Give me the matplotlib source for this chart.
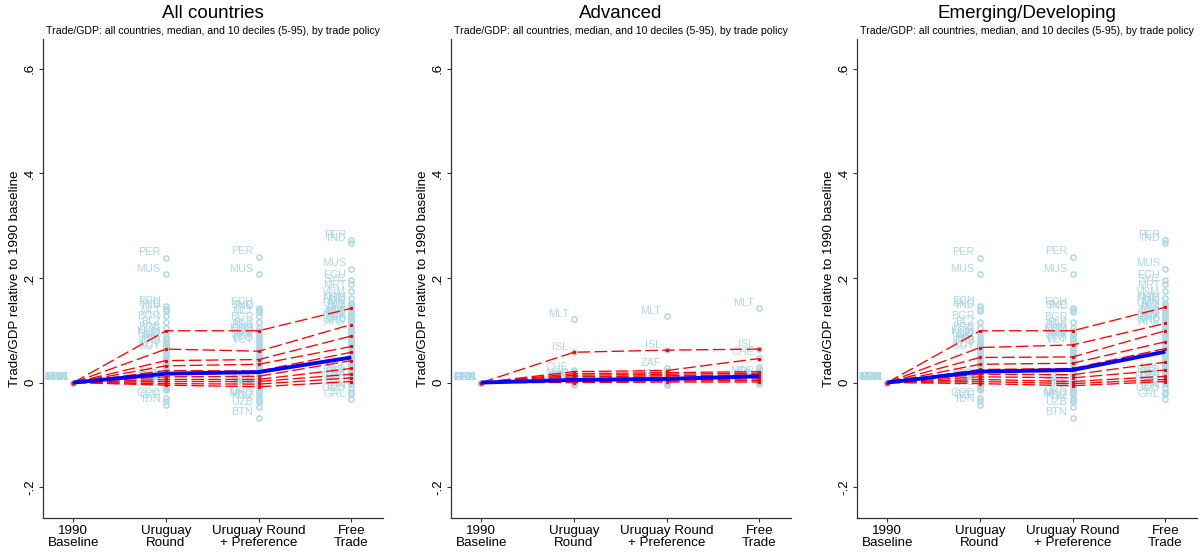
import matplotlib
matplotlib.use("Agg")
import matplotlib.pyplot as plt

plt.rcParams['font.family'] = ['Liberation Sans', 'DejaVu Sans']

# ---------------------------------------------------------------- data
categories = ["1990\nBaseline", "Uruguay\nRound", "Uruguay Round\n+ Preference", "Free\nTrade"]
panel_titles = ["All countries", "Advanced", "Emerging/Developing"]
subtitle = "Trade/GDP: all countries, median, and 10 deciles (5-95), by trade policy"
y_ticks = [-0.2, 0.0, 0.2, 0.4, 0.6]
y_tick_labels = ["-.2", "0", ".2", ".4", ".6"]
y_title = "Trade/GDP relative to 1990 baseline"

# medians and deciles (5..95) per scenario (Uruguay, Uruguay+Pref, Free trade)
all_median = [0.0, 0.017, 0.020, 0.048]
all_dec_ur = [0.099, 0.064, 0.042, 0.032, 0.023, 0.011, 0.006, 0.002, -0.002, -0.005]
all_dec_urp = [0.099, 0.060, 0.044, 0.035, 0.022, 0.012, 0.006, 0.002, -0.003, -0.008]
all_dec_ft = [0.142, 0.111, 0.089, 0.069, 0.058, 0.042, 0.027, 0.016, 0.009, 0.002]

adv_median = [0.0, 0.005, 0.007, 0.012]
adv_dec_ur = [0.058, 0.021, 0.017, 0.014, 0.011, 0.008, 0.006, 0.004, 0.002, 0.000]
adv_dec_urp = [0.062, 0.023, 0.019, 0.016, 0.013, 0.010, 0.007, 0.005, 0.003, 0.001]
adv_dec_ft = [0.064, 0.046, 0.021, 0.018, 0.015, 0.013, 0.010, 0.007, 0.004, 0.001]

emg_median = [0.0, 0.021, 0.024, 0.059]
emg_dec_ur = [0.099, 0.067, 0.048, 0.035, 0.025, 0.016, 0.011, 0.006, 0.002, -0.002]
emg_dec_urp = [0.099, 0.072, 0.049, 0.037, 0.027, 0.015, 0.009, 0.002, -0.002, -0.006]
emg_dec_ft = [0.144, 0.113, 0.099, 0.078, 0.065, 0.039, 0.024, 0.012, 0.006, 0.002]

# country values: labelled countries and the remaining ones
all_base_codes = ["CHN", "BRA", "MEX", "TUR", "ARG", "ZAF", "GBR", "EGY"]
all_ur_codes = ["PER", "MUS", "ECU", "SYC", "IND", "MLT", "BGR", "BLZ", "BRB", "KHM", "HND",
                "NIC", "JAM", "LCA", "TTO", "VCT", "GUY", "NPL", "BGD", "PAK", "LKA", "MMR",
                "LAO", "GEO", "CZE", "IDN"]
all_ur_vals = [0.239, 0.207, 0.146, 0.141, 0.137, 0.127, 0.116, 0.105, 0.095, 0.088, 0.084,
               0.080, 0.076, 0.072, 0.068, 0.064, 0.060, 0.010, 0.006, 0.002, -0.002, -0.006,
               -0.010, -0.030, -0.035, -0.043]
all_ur_rest = [0.056, 0.052, 0.049, 0.045, 0.042, 0.038, 0.035, 0.032, 0.029, 0.026, 0.023,
               0.021, 0.018, 0.016, 0.014, 0.012, 0.008, 0.004, 0.000, -0.004, -0.008,
               -0.012, -0.014]

all_urp_codes = ["PER", "MUS", "ECU", "SYC", "IND", "MLT", "BGR", "BLZ", "BRB", "KHM", "HND",
                 "NIC", "JAM", "LCA", "TTO", "VCT", "NPL", "BGD", "PAK", "LKA", "MKD", "MNG",
                 "KGZ", "UZB", "BTN"]
all_urp_vals = [0.241, 0.207, 0.143, 0.138, 0.135, 0.127, 0.115, 0.104, 0.099, 0.094, 0.090,
                0.086, 0.082, 0.078, 0.074, 0.070, -0.002, -0.006, -0.010, -0.014, -0.029,
                -0.033, -0.037, -0.047, -0.067]
all_urp_rest = [0.066, 0.062, 0.058, 0.055, 0.051, 0.048, 0.044, 0.041, 0.038, 0.035, 0.032,
                0.029, 0.026, 0.023, 0.020, 0.018, 0.015, 0.013, 0.010, 0.008, 0.005, 0.002,
                -0.018, -0.021]

all_ft_codes = ["PER", "IND", "MUS", "ECU", "SYC", "MRT", "VNM", "KHM", "HND", "NIC", "GUY",
                "BLZ", "JAM", "LCA", "MLT", "TTO", "VCT", "DMA", "BRB", "GRD", "ATG", "NPL",
                "BGD", "PAK", "LKA", "MMR", "LAO", "CZE", "IDN", "GEO", "GRL"]
all_ft_vals = [0.272, 0.266, 0.218, 0.196, 0.188, 0.175, 0.162, 0.153, 0.149, 0.145, 0.141,
               0.137, 0.133, 0.129, 0.127, 0.125, 0.121, 0.117, 0.113, 0.109, 0.105, 0.018,
               0.014, 0.010, 0.006, 0.002, -0.003, -0.011, -0.018, -0.021, -0.032]
all_ft_rest = [0.101, 0.097, 0.093, 0.089, 0.085, 0.081, 0.077, 0.073, 0.069, 0.065, 0.061,
               0.057, 0.053, 0.049, 0.045, 0.041, 0.037, 0.034, 0.031, 0.028, 0.025, 0.022]

adv_base_codes = ["GBR", "USA", "DEU", "FRA", "JPN", "ITA", "CAN", "AUS"]
adv_ur_codes = ["MLT", "ISL", "CHE", "NOR", "IRL", "NZL", "AUS"]
adv_ur_vals = [0.121, 0.058, 0.020, 0.007, 0.004, 0.002, 0.000]
adv_ur_rest = [0.024, 0.017, 0.015, 0.013, 0.011, 0.009, 0.006, 0.003, 0.001, -0.001,
               -0.003, -0.005]
adv_urp_codes = ["MLT", "ISL", "ZAF", "NOR", "IRL", "NZL"]
adv_urp_vals = [0.127, 0.062, 0.027, 0.006, 0.003, 0.000]
adv_urp_rest = [0.022, 0.019, 0.017, 0.015, 0.013, 0.011, 0.009, 0.007, 0.004, 0.002,
                -0.002, -0.004]
adv_ft_codes = ["MLT", "ISL", "CHE", "NOR", "IRL", "NZL", "AUS"]
adv_ft_vals = [0.142, 0.064, 0.047, 0.012, 0.009, 0.006, 0.003]
adv_ft_rest = [0.029, 0.025, 0.022, 0.020, 0.018, 0.015, 0.013, 0.010, 0.007, 0.005, 0.002,
               0.000, -0.002]

advanced_set = set(adv_base_codes + adv_ur_codes + adv_ft_codes)


def drop_advanced(codes, vals):
    kept = [(c, v) for c, v in zip(codes, vals) if c not in advanced_set]
    return [c for c, _ in kept], [v for _, v in kept]


emg_base_codes = [c for c in all_base_codes if c not in advanced_set]

panels = [
    dict(median=all_median, deciles=[all_dec_ur, all_dec_urp, all_dec_ft],
         base=all_base_codes,
         cols=[(all_ur_codes, all_ur_vals, all_ur_rest),
               (all_urp_codes, all_urp_vals, all_urp_rest),
               (all_ft_codes, all_ft_vals, all_ft_rest)]),
    dict(median=adv_median, deciles=[adv_dec_ur, adv_dec_urp, adv_dec_ft],
         base=adv_base_codes,
         cols=[(adv_ur_codes, adv_ur_vals, adv_ur_rest),
               (adv_urp_codes, adv_urp_vals, adv_urp_rest),
               (adv_ft_codes, adv_ft_vals, adv_ft_rest)]),
    dict(median=emg_median, deciles=[emg_dec_ur, emg_dec_urp, emg_dec_ft],
         base=emg_base_codes,
         cols=[(*drop_advanced(all_ur_codes, all_ur_vals), all_ur_rest),
               (*drop_advanced(all_urp_codes, all_urp_vals), all_urp_rest),
               (*drop_advanced(all_ft_codes, all_ft_vals), all_ft_rest)]),
]

# ---------------------------------------------------------------- style
LIGHT = "#ADD8E6"
AXIS_COL = "#333333"
W, H = 1200, 557
fig = plt.figure(figsize=(W / 100, H / 100), dpi=100)

ax_left_px = [43, 451, 857]
ax_w_px = 340
ax_top_px, ax_bot_px = 39, 518

for k, (panel, title) in enumerate(zip(panels, panel_titles)):
    ax = fig.add_axes([ax_left_px[k] / W, 1 - ax_bot_px / H, ax_w_px / W,
                       (ax_bot_px - ax_top_px) / H])
    xs = list(range(len(categories)))

    def scatter_column(x, codes, vals, rest):
        ax.plot([x] * len(rest), rest, 'o', mfc='none', mec=LIGHT, ms=3.7, mew=1.1, zorder=2)
        ax.plot([x] * len(vals), vals, 'o', mfc='none', mec=LIGHT, ms=3.7, mew=1.1, zorder=2)
        for c, v in zip(codes, vals):
            ax.annotate(c, (x, v), xytext=(-3.8, 4.0), textcoords='offset points',
                        ha='right', va='center', color=LIGHT, fontsize=7.8, zorder=2)

    scatter_column(0, panel['base'], [0.0] * len(panel['base']), [])
    for j, (codes, vals, rest) in enumerate(panel['cols']):
        scatter_column(j + 1, codes, vals, rest)

    ur, urp, ft = panel['deciles']
    for i in range(len(ur)):
        ax.plot(xs, [0.0, ur[i], urp[i], ft[i]], color='red', lw=0.95,
                linestyle=(0, (9.5, 3.3)), marker='s', ms=1.3, mec='red', mfc='red', zorder=3)
    ax.plot(xs, panel['median'], color='#0000FF', lw=2.8, zorder=4, solid_capstyle='butt')

    ax.set_xlim(-0.327, 3.342)
    ax.set_ylim(-0.259, 0.657)
    ax.set_xticks(xs)
    ax.set_xticklabels(categories, fontsize=9.6, linespacing=1.0)
    ax.set_yticks(y_ticks)
    ax.set_yticklabels(y_tick_labels, fontsize=9.6, rotation=90, va='center')
    for s in ('top', 'right'):
        ax.spines[s].set_visible(False)
    for s in ('left', 'bottom'):
        ax.spines[s].set_color(AXIS_COL)
        ax.spines[s].set_linewidth(0.9)
    ax.tick_params(axis='both', direction='out', length=3, width=0.8, color=AXIS_COL)
    ax.tick_params(axis='y', pad=2)
    ax.tick_params(axis='x', pad=2)
    ax.set_ylabel(y_title, fontsize=9.6)
    ax.yaxis.set_label_coords(-22 / ax_w_px, 0.5)

    cx = (ax_left_px[k] + ax_w_px / 2) / W
    fig.text(cx, 1 - 13 / H, title, ha='center', va='center', fontsize=13.5)
    fig.text(cx, 1 - 31 / H, subtitle, ha='center', va='center', fontsize=7.6)

fig.savefig("out.png", dpi=100, facecolor='white')
